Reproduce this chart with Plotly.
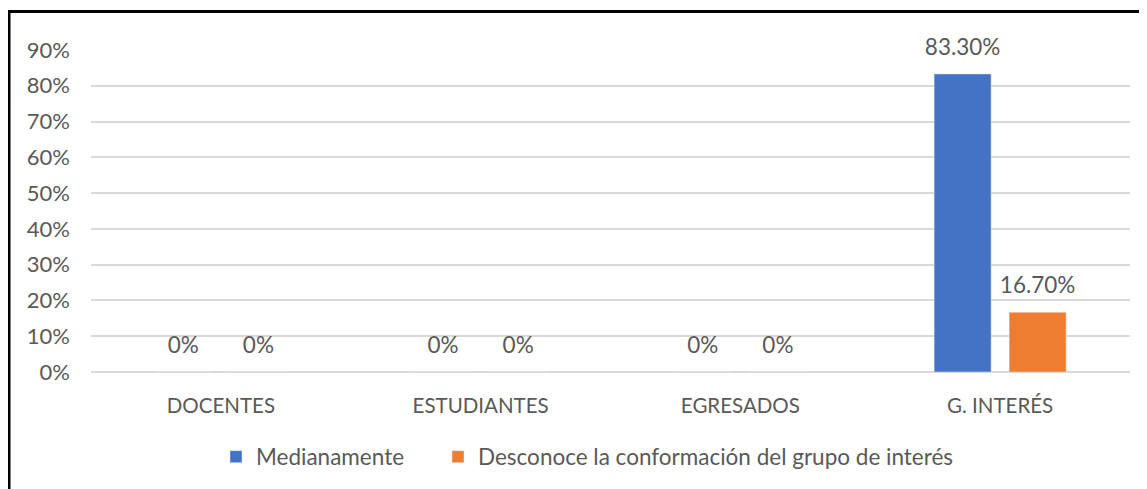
import plotly.graph_objects as go

categories = ["DOCENTES", "ESTUDIANTES", "EGRESADOS", "G. INTERÉS"]
series_names = ["Medianamente", "Desconoce la conformación del grupo de interés"]
medianamente = [0, 0, 0, 0.833]
desconoce = [0, 0, 0, 0.167]
y_ticks = [0, 0.1, 0.2, 0.3, 0.4, 0.5, 0.6, 0.7, 0.8, 0.9]

colors = ["#4472C4", "#ED7D31"]
FONT = "Lato, sans-serif"
TXT = "#595959"


def fmt(v):
    return f"{v:.2%}" if v else "0%"


legend_ids = ["legend", "legend2"]

fig = go.Figure()
for i, (name, vals) in enumerate(zip(series_names, [medianamente, desconoce])):
    fig.add_trace(go.Bar(
        x=categories, y=vals, name=name, marker_color=colors[i],
        offsetgroup=str(i), hoverinfo="skip", legend=legend_ids[i],
    ))
for i, vals in enumerate([medianamente, desconoce]):
    fig.add_trace(go.Scatter(
        x=categories, y=vals, mode="markers+text", text=[fmt(v) for v in vals],
        textposition="top center", offsetgroup=str(i), showlegend=False,
        marker=dict(size=20, opacity=0), cliponaxis=False,
        textfont=dict(family=FONT, size=22.5, color=TXT), hoverinfo="skip",
    ))

# page body has an 8px margin: reference pixel positions are shifted by -8
OFF = 8
W, H = 1147, 489
L, R, T, B = 91 - OFF, 17 + OFF, 50 - OFF, 117 + OFF
pw, ph = W - L - R, H - T - B


def px(x):
    return (x - OFF - L) / pw


def py(y):
    return (H - B - (y - OFF)) / ph


leg_style = dict(orientation="h", xanchor="left", y=py(457), yanchor="middle",
                 font=dict(family=FONT, size=22.5, color=TXT), bgcolor="rgba(0,0,0,0)")

fig.update_layout(
    width=W, height=H,
    margin=dict(l=L, r=R, t=T, b=B),
    paper_bgcolor="white", plot_bgcolor="white",
    barmode="group", bargap=0.4225, bargroupgap=0.24,
    scattermode="group", scattergap=0.4225,
    font=dict(family=FONT, size=22, color=TXT),
    legend=dict(x=px(216), **leg_style),
    legend2=dict(x=px(438), **leg_style),
    xaxis=dict(showgrid=False, showline=False, zeroline=False, ticks="",
               tickfont=dict(family=FONT, size=20.5, color=TXT), ticklabelstandoff=19),
    yaxis=dict(range=[0, 0.9], tickvals=y_ticks, tickformat=".0%",
               showgrid=True, gridcolor="#D9D9D9", gridwidth=2,
               zeroline=True, zerolinecolor="#D9D9D9", zerolinewidth=2,
               showline=False, ticks="", ticklabelstandoff=20,
               tickfont=dict(family=FONT, size=22, color=TXT)),
    shapes=[
        dict(type="line", xref="paper", yref="paper", x0=px(8), x1=px(1160), y0=py(11.5), y1=py(11.5),
             line=dict(color="black", width=3)),
        dict(type="line", xref="paper", yref="paper", x0=px(9), x1=px(9), y0=py(10), y1=py(500),
             line=dict(color="black", width=3)),
    ],
)

fig.write_html("out.html")
